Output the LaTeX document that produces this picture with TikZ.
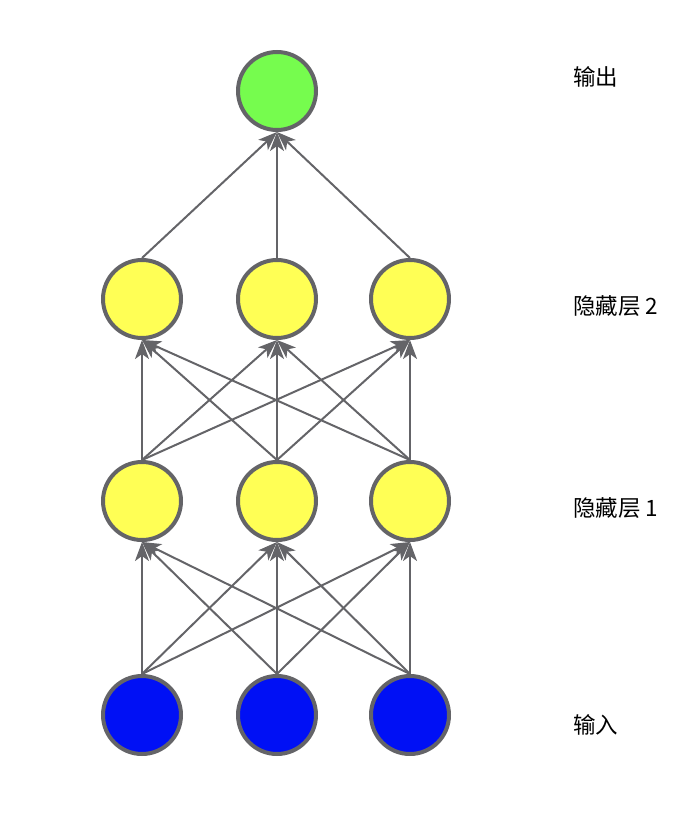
\documentclass[tikz,border=0pt]{standalone}
\usepackage{fontspec}
\newfontfamily\cjk{Noto Sans CJK SC}
\usetikzlibrary{arrows.meta}
\definecolor{edgegray}{RGB}{100,100,104}
\definecolor{outgreen}{RGB}{118,252,78}
\definecolor{hidyellow}{RGB}{255,255,85}
\definecolor{inblue}{RGB}{0,16,245}
\begin{document}
\begin{tikzpicture}[x=1pt,y=-1pt,
  neuron/.style={circle,draw=edgegray,line width=4pt,minimum size=78pt,inner sep=0pt},
  conn/.style={draw=edgegray,line width=2pt,-{Stealth[length=19pt,width=14pt,inset=5pt]}},
  lbl/.style={anchor=west,font=\cjk\fontsize{22.5}{26}\selectfont,inner sep=0pt}]
\useasboundingbox (0,0) rectangle (694,814);
\node[neuron,fill=outgreen] (o) at (277,91) {};
\node[neuron,fill=hidyellow] (b1) at (142,299) {};
\node[neuron,fill=hidyellow] (b2) at (277,299) {};
\node[neuron,fill=hidyellow] (b3) at (410,299) {};
\node[neuron,fill=hidyellow] (a1) at (142,501) {};
\node[neuron,fill=hidyellow] (a2) at (277,501) {};
\node[neuron,fill=hidyellow] (a3) at (410,501) {};
\node[neuron,fill=inblue] (i1) at (142,715) {};
\node[neuron,fill=inblue] (i2) at (277,715) {};
\node[neuron,fill=inblue] (i3) at (410,715) {};
\foreach \s in {1,2,3}{
  \foreach \t in {1,2,3}{
    \draw[conn] (i\s.north) -- (a\t.south);
    \draw[conn] (a\s.north) -- (b\t.south);
  }
  \draw[conn] (b\s.north) -- (o.south);
}
\node[lbl] (l4) at (573,77) {输出};
\node[lbl] (l3) at (573,306) {隐藏层 2};
\node[lbl] (l2) at (573,508) {隐藏层 1};
\node[lbl] (l1) at (573,725) {输入};
\end{tikzpicture}
\end{document}
